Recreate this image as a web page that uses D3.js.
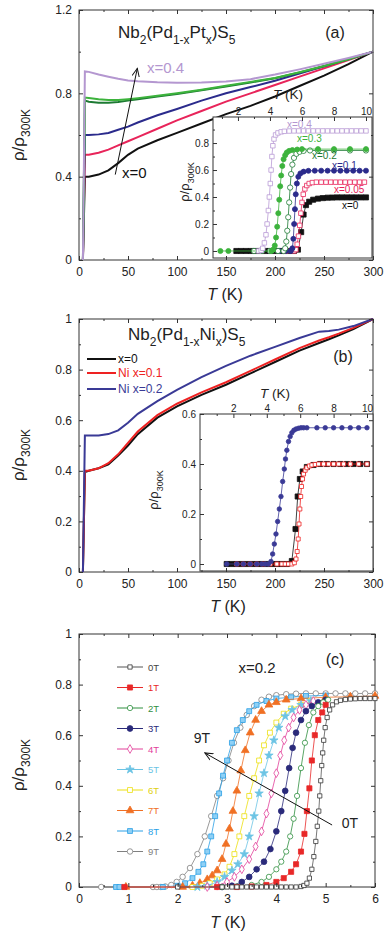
<!DOCTYPE html>
<html>
<head>
<meta charset="utf-8">
<script src="https://cdn.jsdelivr.net/npm/d3@7"></script>
<style>
body { margin: 0; background: #fff; }
svg { display: block; font-family: "Liberation Sans", Arial, sans-serif; }
</style>
</head>
<body>
<svg id="fig" width="389" height="937"></svg>
<script>
// ---------- panel (a): Nb2(Pd1-xPtx)S5, rho/rho300K vs T ----------
const aTemps = [4, 6, 10, 20, 30, 40, 50, 60, 80, 100, 125, 150, 175, 200, 225, 250, 275, 300];
const aX0   = [0, 0.40, 0.40, 0.41, 0.43, 0.465, 0.505, 0.535, 0.575, 0.61, 0.655, 0.70, 0.74, 0.785, 0.835, 0.885, 0.94, 1.0];
const aX005 = [0, 0.505, 0.505, 0.515, 0.53, 0.55, 0.57, 0.59, 0.63, 0.67, 0.715, 0.76, 0.80, 0.84, 0.88, 0.92, 0.96, 1.0];
const aX01  = [0, 0.60, 0.60, 0.603, 0.61, 0.625, 0.64, 0.66, 0.695, 0.725, 0.765, 0.80, 0.83, 0.86, 0.895, 0.93, 0.965, 1.0];
const aX02  = [0, 0.765, 0.76, 0.755, 0.755, 0.758, 0.765, 0.772, 0.785, 0.797, 0.815, 0.833, 0.852, 0.872, 0.90, 0.93, 0.963, 1.0];
const aX03  = [0, 0.78, 0.778, 0.772, 0.768, 0.768, 0.772, 0.777, 0.788, 0.80, 0.817, 0.836, 0.855, 0.874, 0.901, 0.931, 0.964, 1.0];
const aX04  = [0, 0.905, 0.903, 0.89, 0.88, 0.87, 0.862, 0.858, 0.853, 0.851, 0.852, 0.857, 0.868, 0.89, 0.915, 0.942, 0.97, 1.0];
const aXTicks = [0, 50, 100, 150, 200, 250, 300];
const aYTicks = [0, 0.4, 0.8, 1.2];
const aArrow = [[37, 0.41], [59.5, 0.92]];

// inset (a): low-T transitions, [T (K), rho/rho300K]
const iaX04 = [[3.3,0],[3.45,0.005],[3.55,0.02],[3.65,0.06],[3.75,0.12],[3.82,0.2],[3.9,0.3],[3.96,0.4],[4.02,0.5],[4.07,0.6],[4.12,0.7],[4.18,0.78],[4.25,0.83],[4.35,0.86],[4.5,0.875],[4.7,0.883],[4.9,0.887],[5.2,0.889],[5.5,0.89],[5.8,0.89],[6.1,0.89],[6.4,0.89],[6.7,0.89],[7.0,0.89],[7.3,0.89],[7.6,0.89],[7.9,0.89],[8.2,0.89],[8.5,0.89],[8.8,0.89],[9.1,0.89],[9.4,0.89],[9.7,0.89],[10.0,0.89]];
const iaX03 = [[0.9,0],[1.4,0],[4.1,0],[4.2,0.01],[4.3,0.04],[4.38,0.1],[4.45,0.18],[4.52,0.28],[4.58,0.38],[4.64,0.48],[4.7,0.56],[4.77,0.63],[4.85,0.68],[4.95,0.71],[5.05,0.73],[5.2,0.742],[5.4,0.748],[5.7,0.752],[6.0,0.755],[7.0,0.755],[8.0,0.755],[9.0,0.755],[10.0,0.755]];
const iaX02 = [[3.0,0],[3.5,0],[4.0,0],[4.5,0],[4.85,0],[4.95,0.02],[5.02,0.07],[5.08,0.15],[5.14,0.25],[5.2,0.36],[5.26,0.47],[5.32,0.57],[5.4,0.64],[5.5,0.69],[5.65,0.72],[5.85,0.735],[6.1,0.742],[6.5,0.745],[7.0,0.745],[8.0,0.745],[9.0,0.745],[10.0,0.745]];
const iaX01 = [[4.6,0],[5.0,0],[5.3,0],[5.4,0.02],[5.46,0.09],[5.51,0.2],[5.56,0.31],[5.61,0.42],[5.68,0.5],[5.77,0.55],[5.9,0.575],[6.1,0.588],[6.4,0.594],[6.8,0.595],[7.2,0.595],[7.6,0.595],[8.0,0.595],[8.4,0.595],[8.8,0.595],[9.2,0.595],[9.6,0.595],[10.0,0.595]];
const iaX005 = [[5.0,0],[5.5,0],[5.62,0.01],[5.7,0.05],[5.78,0.11],[5.86,0.19],[5.93,0.28],[6.0,0.36],[6.08,0.42],[6.18,0.46],[6.3,0.485],[6.45,0.5],[6.65,0.507],[6.9,0.51],[7.2,0.51],[7.5,0.51],[7.8,0.51],[8.1,0.51],[8.4,0.51],[8.7,0.51],[9.0,0.51],[9.3,0.51],[9.6,0.51],[9.9,0.51]];
const iaX0 = [[1.9,0],[2.2,0],[2.5,0],[2.8,0],[3.1,0],[3.4,0],[3.7,0],[4.0,0],[4.3,0],[4.6,0],[4.9,0],[5.2,0],[5.5,0],[5.75,0.01],[5.95,0.14],[6.1,0.27],[6.25,0.34],[6.45,0.365],[6.7,0.38],[7.0,0.388],[7.3,0.392],[7.6,0.395],[7.9,0.396],[8.2,0.397],[8.5,0.397],[8.8,0.397],[9.1,0.397],[9.4,0.397],[9.7,0.397],[10.0,0.397]];
const iaXTicks = [2, 4, 6, 8, 10];
const iaYTicks = [0, 0.2, 0.4, 0.6, 0.8];

// ---------- panel (b): Nb2(Pd1-xNix)S5 ----------
const bTemps = [4, 6, 10, 20, 30, 40, 50, 60, 80, 100, 125, 150, 175, 200, 225, 245, 255, 265, 280, 300];
const bX0    = [0, 0.395, 0.40, 0.41, 0.425, 0.46, 0.50, 0.545, 0.61, 0.655, 0.70, 0.74, 0.785, 0.83, 0.875, 0.905, 0.92, 0.935, 0.96, 1.0];
const bNi01  = [0, 0.40, 0.40, 0.41, 0.43, 0.465, 0.51, 0.555, 0.62, 0.665, 0.71, 0.75, 0.795, 0.84, 0.885, 0.915, 0.928, 0.942, 0.965, 1.0];
const bNi02  = [0, 0.54, 0.54, 0.54, 0.545, 0.56, 0.59, 0.625, 0.675, 0.72, 0.77, 0.815, 0.855, 0.89, 0.925, 0.95, 0.953, 0.958, 0.972, 1.0];
const bXTicks = [0, 50, 100, 150, 200, 250, 300];
const bYTicks = [0, 0.2, 0.4, 0.6, 0.8, 1];
const bLegend = ["x=0", "Ni x=0.1", "Ni x=0.2"];

// inset (b)
const ibX0 = [[1.6,0],[1.9,0],[2.2,0],[2.5,0],[2.8,0],[3.1,0],[3.4,0],[3.7,0],[4.0,0],[4.3,0],[4.6,0],[4.9,0],[5.2,0],[5.5,0.012],[5.72,0.14],[5.85,0.27],[5.98,0.34],[6.15,0.37],[6.4,0.388],[6.8,0.396],[7.2,0.4],[7.6,0.4],[8.0,0.4],[8.4,0.4],[8.8,0.4],[9.2,0.4],[9.6,0.4],[10.0,0.4]];
const ibNi01 = [[2.2,0],[2.6,0],[3.0,0],[3.4,0],[3.8,0],[4.2,0],[4.6,0],[4.9,0],[5.1,0],[5.3,0],[5.5,0],[5.65,0.005],[5.75,0.02],[5.82,0.05],[5.88,0.1],[5.93,0.16],[5.98,0.22],[6.03,0.27],[6.08,0.31],[6.14,0.34],[6.2,0.36],[6.3,0.375],[6.4,0.385],[6.55,0.392],[6.7,0.396],[6.9,0.398],[7.1,0.4],[7.4,0.4],[7.7,0.4],[8.0,0.4],[8.3,0.4],[8.6,0.4],[9.0,0.4],[9.5,0.4],[10.0,0.4]];
const ibNi02 = [[1.6,0],[2.2,0],[2.6,0],[3.0,0],[3.4,0],[3.7,0],[3.9,0],[4.1,0],[4.25,0.01],[4.35,0.04],[4.45,0.08],[4.55,0.12],[4.65,0.17],[4.75,0.22],[4.85,0.27],[4.95,0.33],[5.05,0.38],[5.12,0.42],[5.2,0.455],[5.3,0.49],[5.4,0.51],[5.5,0.525],[5.62,0.535],[5.75,0.54],[5.9,0.543],[6.05,0.545],[6.2,0.545],[6.4,0.545],[7.0,0.545],[7.5,0.545],[8.0,0.545],[8.5,0.545],[9.0,0.545],[9.5,0.545],[10.0,0.545]];
const ibXTicks = [2, 4, 6, 8, 10];
const ibYTicks = [0, 0.2, 0.4, 0.6];

// ---------- panel (c): x=0.2 in field ----------
const c0T = [[2.0,0],[2.9,0],[3.0,0],[3.1,0],[3.2,0],[3.3,0],[3.4,0],[3.5,0],[3.6,0],[3.7,0],[3.8,0],[3.9,0],[4.0,0],[4.1,0],[4.2,0],[4.3,0],[4.4,0],[4.5,0.002],[4.56,0.006],[4.62,0.015],[4.67,0.035],[4.72,0.07],[4.76,0.12],[4.8,0.18],[4.83,0.24],[4.86,0.3],[4.88,0.36],[4.9,0.42],[4.92,0.48],[4.94,0.53],[4.96,0.58],[4.99,0.63],[5.03,0.67],[5.08,0.7],[5.14,0.72],[5.22,0.732],[5.3,0.738],[5.4,0.741],[5.5,0.743],[5.6,0.744],[5.7,0.745],[5.8,0.745],[5.9,0.745],[6.0,0.745]];
const c1T = [[0.92,0],[2.8,0],[3.2,0],[3.5,0.002],[3.8,0.008],[4.0,0.02],[4.15,0.035],[4.3,0.06],[4.4,0.09],[4.5,0.14],[4.57,0.21],[4.62,0.3],[4.67,0.39],[4.72,0.5],[4.78,0.6],[4.85,0.66],[4.93,0.69],[5.0,0.72]];
const c2T = [[2.9,0],[3.2,0.002],[3.5,0.008],[3.7,0.02],[3.85,0.04],[4.0,0.07],[4.1,0.1],[4.2,0.14],[4.28,0.2],[4.35,0.27],[4.42,0.36],[4.5,0.47],[4.58,0.57],[4.66,0.64],[4.75,0.69],[4.85,0.715],[4.95,0.73],[5.05,0.74]];
const c3T = [[2.9,0],[3.1,0.005],[3.3,0.02],[3.45,0.04],[3.6,0.07],[3.75,0.1],[3.88,0.15],[4.0,0.22],[4.1,0.3],[4.18,0.38],[4.26,0.47],[4.33,0.55],[4.4,0.61],[4.5,0.66],[4.6,0.695],[4.72,0.715],[4.85,0.73],[5.0,0.74]];
const c4T = [[2.6,0],[2.8,0.005],[3.0,0.02],[3.15,0.04],[3.3,0.07],[3.45,0.11],[3.58,0.16],[3.7,0.22],[3.8,0.29],[3.9,0.37],[4.0,0.45],[4.08,0.52],[4.16,0.58],[4.25,0.63],[4.35,0.67],[4.47,0.7],[4.6,0.72],[4.75,0.735]];
const c5T = [[2.4,0],[2.6,0.005],[2.8,0.02],[2.95,0.04],[3.1,0.065],[3.22,0.09],[3.35,0.13],[3.45,0.2],[3.55,0.28],[3.65,0.37],[3.75,0.45],[3.85,0.52],[3.95,0.58],[4.05,0.63],[4.18,0.675],[4.32,0.7],[4.5,0.72],[4.7,0.735]];
const c6T = [[2.3,0],[2.5,0.005],[2.65,0.015],[2.8,0.03],[2.95,0.05],[3.05,0.08],[3.15,0.13],[3.25,0.2],[3.35,0.28],[3.45,0.36],[3.55,0.43],[3.65,0.5],[3.75,0.56],[3.87,0.61],[4.0,0.65],[4.15,0.685],[4.3,0.705],[4.5,0.72],[4.7,0.735]];
const c7T = [[0.95,0],[2.1,0],[2.3,0.005],[2.45,0.015],[2.6,0.03],[2.7,0.045],[2.8,0.065],[2.9,0.11],[2.98,0.17],[3.05,0.23],[3.12,0.3],[3.2,0.38],[3.28,0.46],[3.37,0.54],[3.47,0.61],[3.58,0.66],[3.7,0.695],[3.85,0.72],[4.0,0.73],[4.2,0.74],[4.5,0.745],[5.0,0.75],[5.5,0.752],[6.0,0.755]];
const c8T = [[0.75,0],[0.82,0],[1.7,0],[2.0,0.005],[2.15,0.015],[2.3,0.035],[2.42,0.06],[2.52,0.09],[2.6,0.14],[2.68,0.2],[2.76,0.28],[2.84,0.37],[2.92,0.44],[3.0,0.5],[3.1,0.57],[3.2,0.62],[3.32,0.66],[3.45,0.695],[3.6,0.72],[3.8,0.735],[4.0,0.745],[4.3,0.75],[4.6,0.755],[5.0,0.757]];
const c9T = [[0.45,0],[1.5,0],[1.58,0],[1.66,0],[1.75,0.002],[1.87,0.008],[1.98,0.02],[2.1,0.04],[2.25,0.075],[2.4,0.13],[2.55,0.2],[2.68,0.28],[2.8,0.36],[2.92,0.43],[3.03,0.5],[3.14,0.57],[3.27,0.63],[3.4,0.68],[3.55,0.715],[3.7,0.74],[3.85,0.752],[4.0,0.758],[4.2,0.762],[4.4,0.764],[4.6,0.765],[4.8,0.765],[5.0,0.765],[5.2,0.765],[5.4,0.765],[5.6,0.765],[5.8,0.765],[6.0,0.765]];
const cLegend = ["0T", "1T", "2T", "3T", "4T", "5T", "6T", "7T", "8T", "9T"];
const cXTicks = [0, 1, 2, 3, 4, 5, 6];
const cYTicks = [0, 0.2, 0.4, 0.6, 0.8, 1];
const cArrow = [[5.13, 0.245], [2.55, 0.53]];

const svg = d3.select("#fig");
const INK = "#222";

svg.append("defs").append("marker")
  .attr("id", "head").attr("viewBox", "0 0 10 10").attr("refX", 9).attr("refY", 5)
  .attr("markerWidth", 9).attr("markerHeight", 9).attr("orient", "auto-start-reverse")
  .append("path").attr("d", "M0,1 L9,5 L0,9").attr("fill", "none").attr("stroke", "#111").attr("stroke-width", 1.1);

// inward ticks on one side, optional labels
function side(g, make, scale, tr, major, minor, labels, fs, pad) {
  const a = g.append("g").attr("transform", tr)
    .call(make(scale).tickValues(major).tickSize(-4).tickPadding(pad)
      .tickFormat(labels ? d => String(d) : ""));
  a.select(".domain").remove();
  a.selectAll("line").attr("stroke", "#333");
  a.selectAll("text").attr("font-size", fs).attr("fill", INK).attr("font-family", null);
  if (minor) {
    const m = g.append("g").attr("transform", tr)
      .call(make(scale).tickValues(minor).tickSize(-2).tickFormat(""));
    m.select(".domain").remove();
    m.selectAll("line").attr("stroke", "#333");
  }
}

function frame(g, x, y, fill) {
  const [x0, x1] = x.range(), [y0, y1] = y.range();
  g.append("rect").attr("x", x0).attr("y", y1).attr("width", x1 - x0).attr("height", y0 - y1)
    .attr("fill", fill).attr("stroke", "#333").attr("stroke-width", 1);
}

function series(g, x, y, pts, st) {
  if (st.lw) {
    g.append("path").datum(pts).attr("fill", "none")
      .attr("stroke", st.line || st.color).attr("stroke-width", st.lw)
      .attr("d", d3.line().x(d => x(d[0])).y(d => y(d[1])));
  }
  if (st.sym) {
    g.append("g").selectAll("path").data(pts).join("path")
      .attr("transform", d => `translate(${x(d[0])},${y(d[1])})`)
      .attr("d", d3.symbol(st.sym, st.size))
      .attr("fill", st.fill).attr("stroke", st.color).attr("stroke-width", st.sw || 0.8);
  }
}

// text with subscripts: parts = [[text, isSub], ...]
function rich(g, x, y, parts, fs, sfs, color, anchor) {
  const t = g.append("text").attr("x", x).attr("y", y).attr("font-size", fs)
    .attr("fill", color || INK).attr("text-anchor", anchor || "start");
  let prev = false;
  const shift = fs * 0.38;
  for (const [s, sub] of parts) {
    const ts = t.append("tspan").text(s).attr("font-size", sub ? sfs : fs);
    if (sub && !prev) ts.attr("dy", shift);
    if (!sub && prev) ts.attr("dy", -shift);
    prev = sub;
  }
  return t;
}

function yTitle(cx, cy, fs, sfs) {
  const g = svg.append("g").attr("transform", `translate(${cx},${cy}) rotate(-90)`);
  rich(g, 0, 0, [["\u03c1/\u03c1", false], ["300K", true]], fs, sfs, INK, "middle");
}

function xTitle(cx, y, fs) {
  const t = svg.append("text").attr("x", cx).attr("y", y).attr("font-size", fs)
    .attr("fill", INK).attr("text-anchor", "middle");
  t.append("tspan").text("T").attr("font-style", "italic");
  t.append("tspan").text(" (K)");
  return t;
}

function label(g, x, y, s, fs, color, anchor) {
  return g.append("text").attr("x", x).attr("y", y).attr("font-size", fs)
    .attr("fill", color).attr("text-anchor", anchor || "start").text(s);
}

function arrow(g, x, y, pts) {
  g.append("line")
    .attr("x1", x(pts[0][0])).attr("y1", y(pts[0][1]))
    .attr("x2", x(pts[1][0])).attr("y2", y(pts[1][1]))
    .attr("stroke", "#111").attr("stroke-width", 1).attr("marker-end", "url(#head)");
}

const minorOf = (ticks, step) => d3.range(ticks[0], ticks[ticks.length - 1], step)
  .map(v => +(v + step / 2).toFixed(4)).filter(v => !ticks.includes(v));

// ===================== panel (a) =====================
{
  const g = svg.append("g");
  const x = d3.scaleLinear().domain([0, 300]).range([79, 373]);
  const y = d3.scaleLinear().domain([0, 1.2]).range([260, 10]);
  frame(g, x, y, "#fff");

  const curves = [
    [aX0, "#111"], [aX005, "#e8245a"], [aX01, "#2b2b8c"],
    [aX02, "#1d7a33"], [aX03, "#3cb33c"], [aX04, "#b497d0"]
  ];
  for (const [vals, col] of curves) {
    series(g, x, y, aTemps.map((t, i) => [t, vals[i]]), { color: col, lw: 2 });
  }
  arrow(g, x, y, aArrow);
  label(g, 147, 73, "x=0.4", 15, "#b497d0");
  label(g, 122, 178, "x=0", 15, "#111");
  rich(g, 118, 38, [["Nb", false], ["2", true], ["(Pd", false], ["1-x", true], ["Pt", false], ["x", true], [")S", false], ["5", true]], 17, 12);
  label(g, 335, 38, "(a)", 16, INK, "middle");

  // inset
  const ix = d3.scaleLinear().domain([0.44, 10.375]).range([213, 372]);
  const iy = d3.scaleLinear().domain([-0.052, 0.993]).range([258, 117]);
  frame(g, ix, iy, "#fff");
  const ig = g.append("g");
  series(ig, ix, iy, iaX0, { color: "#111", fill: "#111", sym: d3.symbolSquare, size: 26, lw: 0.8 });
  series(ig, ix, iy, iaX005, { color: "#e8245a", fill: "#fff", sym: d3.symbolSquare, size: 20, lw: 0.8 });
  series(ig, ix, iy, iaX01, { color: "#2b2b8c", fill: "#2b2b8c", sym: d3.symbolCircle, size: 20, lw: 0.8 });
  series(ig, ix, iy, iaX02, { color: "#1d7a33", fill: "#fff", sym: d3.symbolCircle, size: 22, lw: 0.8 });
  series(ig, ix, iy, iaX03, { color: "#3cb33c", fill: "#3cb33c", sym: d3.symbolCircle, size: 20, lw: 0.8 });
  series(ig, ix, iy, iaX04, { color: "#b99ad6", fill: "#fff", sym: d3.symbolSquare, size: 20, lw: 0.8 });
  label(ig, 287, 128, "x=0.4", 10, "#b497d0");
  label(ig, 297, 142, "x=0.3", 10, "#3cb33c");
  label(ig, 312, 159, "x=0.2", 10, "#1d7a33");
  label(ig, 332, 169, "x=0.1", 10, "#2b2b8c");
  label(ig, 334, 193, "x=0.05", 10, "#e8245a");
  label(ig, 342, 209, "x=0", 10, "#111");
  side(g, d3.axisTop, ix, "translate(0,117)", iaXTicks, [1, 3, 5, 7, 9], true, 10, 2);
  side(g, d3.axisLeft, iy, "translate(213,0)", iaYTicks, [0.1, 0.3, 0.5, 0.7, 0.9], true, 10, 4);
  xTitle(288, 99, 13.5);
  yTitle(189, 182, 13, 9);

  side(g, d3.axisBottom, x, "translate(0,260)", aXTicks, minorOf(aXTicks, 50), true, 12, 7);
  side(g, d3.axisTop, x, "translate(0,10)", aXTicks, minorOf(aXTicks, 50), false, 12, 4);
  side(g, d3.axisLeft, y, "translate(79,0)", aYTicks, minorOf(aYTicks, 0.4), true, 12, 7);
  side(g, d3.axisRight, y, "translate(373,0)", aYTicks, minorOf(aYTicks, 0.4), false, 12, 4);
  xTitle(225, 300, 16);
  yTitle(24, 135, 17, 12);
}

// ===================== panel (b) =====================
{
  const g = svg.append("g");
  const x = d3.scaleLinear().domain([0, 300]).range([79, 373]);
  const y = d3.scaleLinear().domain([0, 1]).range([572, 319]);
  frame(g, x, y, "#fff");
  const cols = ["#111", "#ee2222", "#3a3a96"];
  [bX0, bNi01, bNi02].forEach((vals, i) => {
    series(g, x, y, bTemps.map((t, k) => [t, vals[k]]), { color: cols[i], lw: 2 });
  });
  rich(g, 128, 340, [["Nb", false], ["2", true], ["(Pd", false], ["1-x", true], ["Ni", false], ["x", true], [")S", false], ["5", true]], 17, 12);
  label(g, 343, 362, "(b)", 16, INK, "middle");
  const legY = [359, 373, 389];
  bLegend.forEach((s, i) => {
    g.append("line").attr("x1", 87).attr("x2", 116).attr("y1", legY[i]).attr("y2", legY[i])
      .attr("stroke", cols[i]).attr("stroke-width", 2);
    label(g, 118, legY[i] + 4, s, 12, cols[i]);
  });

  const ix = d3.scaleLinear().domain([0, 10.36]).range([200, 373]);
  const iy = d3.scaleLinear().domain([-0.028, 0.6]).range([571, 414]);
  frame(g, ix, iy, "#fff");
  const ig = g.append("g");
  series(ig, ix, iy, ibX0, { color: "#111", fill: "#111", sym: d3.symbolSquare, size: 26, lw: 0.8 });
  series(ig, ix, iy, ibNi01, { color: "#ee2222", fill: "#fff", sym: d3.symbolSquare, size: 16, lw: 0.8 });
  series(ig, ix, iy, ibNi02, { color: "#3a3a96", fill: "#3a3a96", sym: d3.symbolCircle, size: 16, lw: 0.8 });
  side(g, d3.axisTop, ix, "translate(0,414)", ibXTicks, [1, 3, 5, 7, 9], true, 10, 2);
  side(g, d3.axisLeft, iy, "translate(200,0)", ibYTicks, [0.1, 0.3, 0.5], true, 10, 4);
  xTitle(275, 398, 13.5);
  yTitle(158, 490, 13, 9);

  side(g, d3.axisBottom, x, "translate(0,572)", bXTicks, minorOf(bXTicks, 50), true, 12, 7);
  side(g, d3.axisTop, x, "translate(0,319)", bXTicks, minorOf(bXTicks, 50), false, 12, 4);
  side(g, d3.axisLeft, y, "translate(79,0)", bYTicks, minorOf(bYTicks, 0.2), true, 12, 7);
  side(g, d3.axisRight, y, "translate(373,0)", bYTicks, minorOf(bYTicks, 0.2), false, 12, 4);
  xTitle(228, 612, 16);
  yTitle(24, 455, 17, 12);
}

// ===================== panel (c) =====================
{
  const g = svg.append("g");
  const x = d3.scaleLinear().domain([0, 6]).range([79, 375]);
  const y = d3.scaleLinear().domain([0, 1]).range([887, 634]);
  frame(g, x, y, "#fff");

  const styles = [
    { color: "#333", line: "#555", fill: "#fff", sym: d3.symbolSquare, size: 18, lw: 0.8, txt: "#444" },
    { color: "#e82828", fill: "#e82828", sym: d3.symbolSquare, size: 26, lw: 0.8, txt: "#e82828" },
    { color: "#2f8f3f", fill: "#fff", sym: d3.symbolCircle, size: 22, lw: 0.8, txt: "#2f8f3f" },
    { color: "#2a2a7a", fill: "#2a2a7a", sym: d3.symbolCircle, size: 26, lw: 0.8, txt: "#2a2a7a" },
    { color: "#e2409a", fill: "#fff", sym: d3.symbolDiamond, size: 22, lw: 0.8, txt: "#e2409a" },
    { color: "#6cc4e4", fill: "#6cc4e4", sym: d3.symbolStar, size: 22, lw: 0.8, txt: "#6cc4e4" },
    { color: "#ecdf10", fill: "#fff", sym: d3.symbolSquare, size: 24, lw: 0.8, txt: "#e0d010" },
    { color: "#f07024", fill: "#f07024", sym: d3.symbolTriangle, size: 26, lw: 0.8, txt: "#f07024" },
    { color: "#2a9fe6", fill: "#8fd0f5", sym: d3.symbolSquare, size: 24, lw: 0.8, txt: "#2a9fe6" },
    { color: "#808080", fill: "#fff", sym: d3.symbolCircle, size: 24, lw: 0.8, txt: "#808080" }
  ];
  const data = [c0T, c1T, c2T, c3T, c4T, c5T, c6T, c7T, c8T, c9T];
  for (let i = data.length - 1; i >= 0; i--) series(g, x, y, data[i], styles[i]);

  // legend
  cLegend.forEach((s, i) => {
    const ly = 667 + i * 20.5, st = styles[i];
    g.append("line").attr("x1", 117).attr("x2", 143).attr("y1", ly).attr("y2", ly)
      .attr("stroke", st.line || st.color).attr("stroke-width", 1);
    g.append("path").attr("transform", `translate(130,${ly})`).attr("d", d3.symbol(st.sym, st.size))
      .attr("fill", st.fill).attr("stroke", st.color).attr("stroke-width", 0.8);
    label(g, 148, ly + 3.5, s, 9.5, st.txt);
  });

  arrow(g, x, y, cArrow);
  label(g, 257, 673, "x=0.2", 15, INK, "middle");
  label(g, 335, 665, "(c)", 16, INK, "middle");
  label(g, 202, 743, "9T", 14, INK, "middle");
  label(g, 350, 828, "0T", 14, INK, "middle");

  side(g, d3.axisBottom, x, "translate(0,887)", cXTicks, minorOf(cXTicks, 1), true, 12, 7);
  side(g, d3.axisTop, x, "translate(0,634)", cXTicks, minorOf(cXTicks, 1), false, 12, 4);
  side(g, d3.axisLeft, y, "translate(79,0)", cYTicks, minorOf(cYTicks, 0.2), true, 12, 7);
  side(g, d3.axisRight, y, "translate(375,0)", cYTicks, minorOf(cYTicks, 0.2), false, 12, 4);
  xTitle(228, 928, 16);
  yTitle(24, 765, 17, 12);
}
</script>
</body>
</html>
